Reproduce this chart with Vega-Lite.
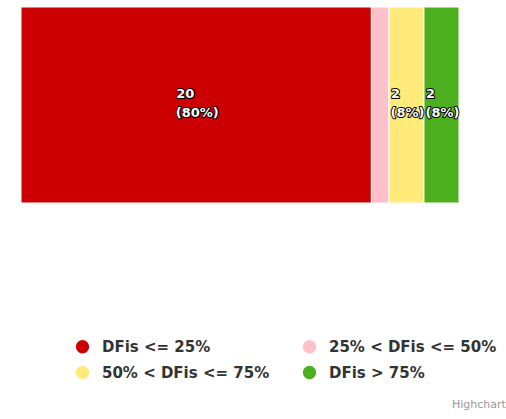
{
  "$schema": "https://vega.github.io/schema/vega-lite/v6.json",
  "autosize": {"type": "none"},
  "width": 438,
  "height": 196,
  "padding": {"left": 21, "top": 7, "right": 47, "bottom": 216},
  "background": "#ffffff",
  "config": {"view": {"stroke": null}, "font": "DejaVu Sans"},
  "title": {
    "text": "Highcharts.com",
    "orient": "bottom",
    "anchor": "end",
    "align": "left",
    "baseline": "alphabetic",
    "dx": -45,
    "offset": 27,
    "font": "DejaVu Sans",
    "fontSize": 11,
    "fontWeight": "normal",
    "color": "#999999"
  },
  "data": {
    "values": [
      {"category": "DFis <= 25%", "value": 20},
      {"category": "25% < DFis <= 50%", "value": 1},
      {"category": "50% < DFis <= 75%", "value": 2},
      {"category": "DFis > 75%", "value": 2}
    ]
  },
  "transform": [
    {"window": [{"op": "sum", "field": "value", "as": "end"}], "frame": [null, 0]},
    {"joinaggregate": [{"op": "sum", "field": "value", "as": "total"}]},
    {"calculate": "datum.end - datum.value", "as": "start"},
    {"calculate": "datum.end - datum.value / 2", "as": "mid"},
    {"calculate": "'(' + format(datum.value / datum.total, '.0%') + ')'", "as": "pct"}
  ],
  "layer": [
    {
      "mark": {"type": "bar", "stroke": "#ffffff", "strokeWidth": 1},
      "encoding": {
        "y": {"datum": "all", "type": "nominal", "axis": null, "scale": {"paddingInner": 0, "paddingOuter": 0}},
        "x": {"field": "start", "type": "quantitative", "scale": {"domain": [0, 25], "nice": false, "zero": true}, "axis": null},
        "x2": {"field": "end"},
        "color": {
          "field": "category",
          "type": "nominal",
          "scale": {
            "domain": ["DFis <= 25%", "25% < DFis <= 50%", "50% < DFis <= 75%", "DFis > 75%"],
            "range": ["#CC0000", "#FFC0CB", "#FFEA7A", "#4BAF1E"]
          },
          "legend": {
            "title": null,
            "orient": "none",
            "legendX": 54,
            "legendY": 332,
            "direction": "horizontal",
            "columns": 2,
            "columnPadding": 32,
            "rowPadding": 10,
            "padding": 0,
            "symbolType": "circle",
            "symbolSize": 177,
            "symbolStrokeWidth": 0,
            "symbolOpacity": 1,
            "labelFont": "DejaVu Sans",
            "labelFontSize": 15,
            "labelFontWeight": "bold",
            "labelColor": "#333333",
            "labelOffset": 12,
            "labelLimit": 400
          }
        }
      }
    },
    {
      "transform": [{"filter": "datum.value > 1"}],
      "mark": {"type": "text", "font": "DejaVu Sans", "fontSize": 13, "fontWeight": "bold", "baseline": "alphabetic", "align": "center", "dx": -11, "dy": -7, "fill": "#000000", "stroke": "#000000", "strokeWidth": 2, "strokeJoin": "round"},
      "encoding": {"x": {"field": "mid", "type": "quantitative"}, "text": {"field": "value", "type": "quantitative"}}
    },
    {
      "transform": [{"filter": "datum.value > 1"}],
      "mark": {"type": "text", "font": "DejaVu Sans", "fontSize": 13, "fontWeight": "bold", "baseline": "alphabetic", "align": "center", "dx": -11, "dy": -7, "fill": "#ffffff"},
      "encoding": {"x": {"field": "mid", "type": "quantitative"}, "text": {"field": "value", "type": "quantitative"}}
    },
    {
      "transform": [{"filter": "datum.value > 1"}],
      "mark": {"type": "text", "font": "DejaVu Sans", "fontSize": 13, "fontWeight": "bold", "baseline": "alphabetic", "align": "center", "dx": 1, "dy": 12, "fill": "#000000", "stroke": "#000000", "strokeWidth": 2, "strokeJoin": "round"},
      "encoding": {"x": {"field": "mid", "type": "quantitative"}, "text": {"field": "pct", "type": "nominal"}}
    },
    {
      "transform": [{"filter": "datum.value > 1"}],
      "mark": {"type": "text", "font": "DejaVu Sans", "fontSize": 13, "fontWeight": "bold", "baseline": "alphabetic", "align": "center", "dx": 1, "dy": 12, "fill": "#ffffff"},
      "encoding": {"x": {"field": "mid", "type": "quantitative"}, "text": {"field": "pct", "type": "nominal"}}
    }
  ]
}
